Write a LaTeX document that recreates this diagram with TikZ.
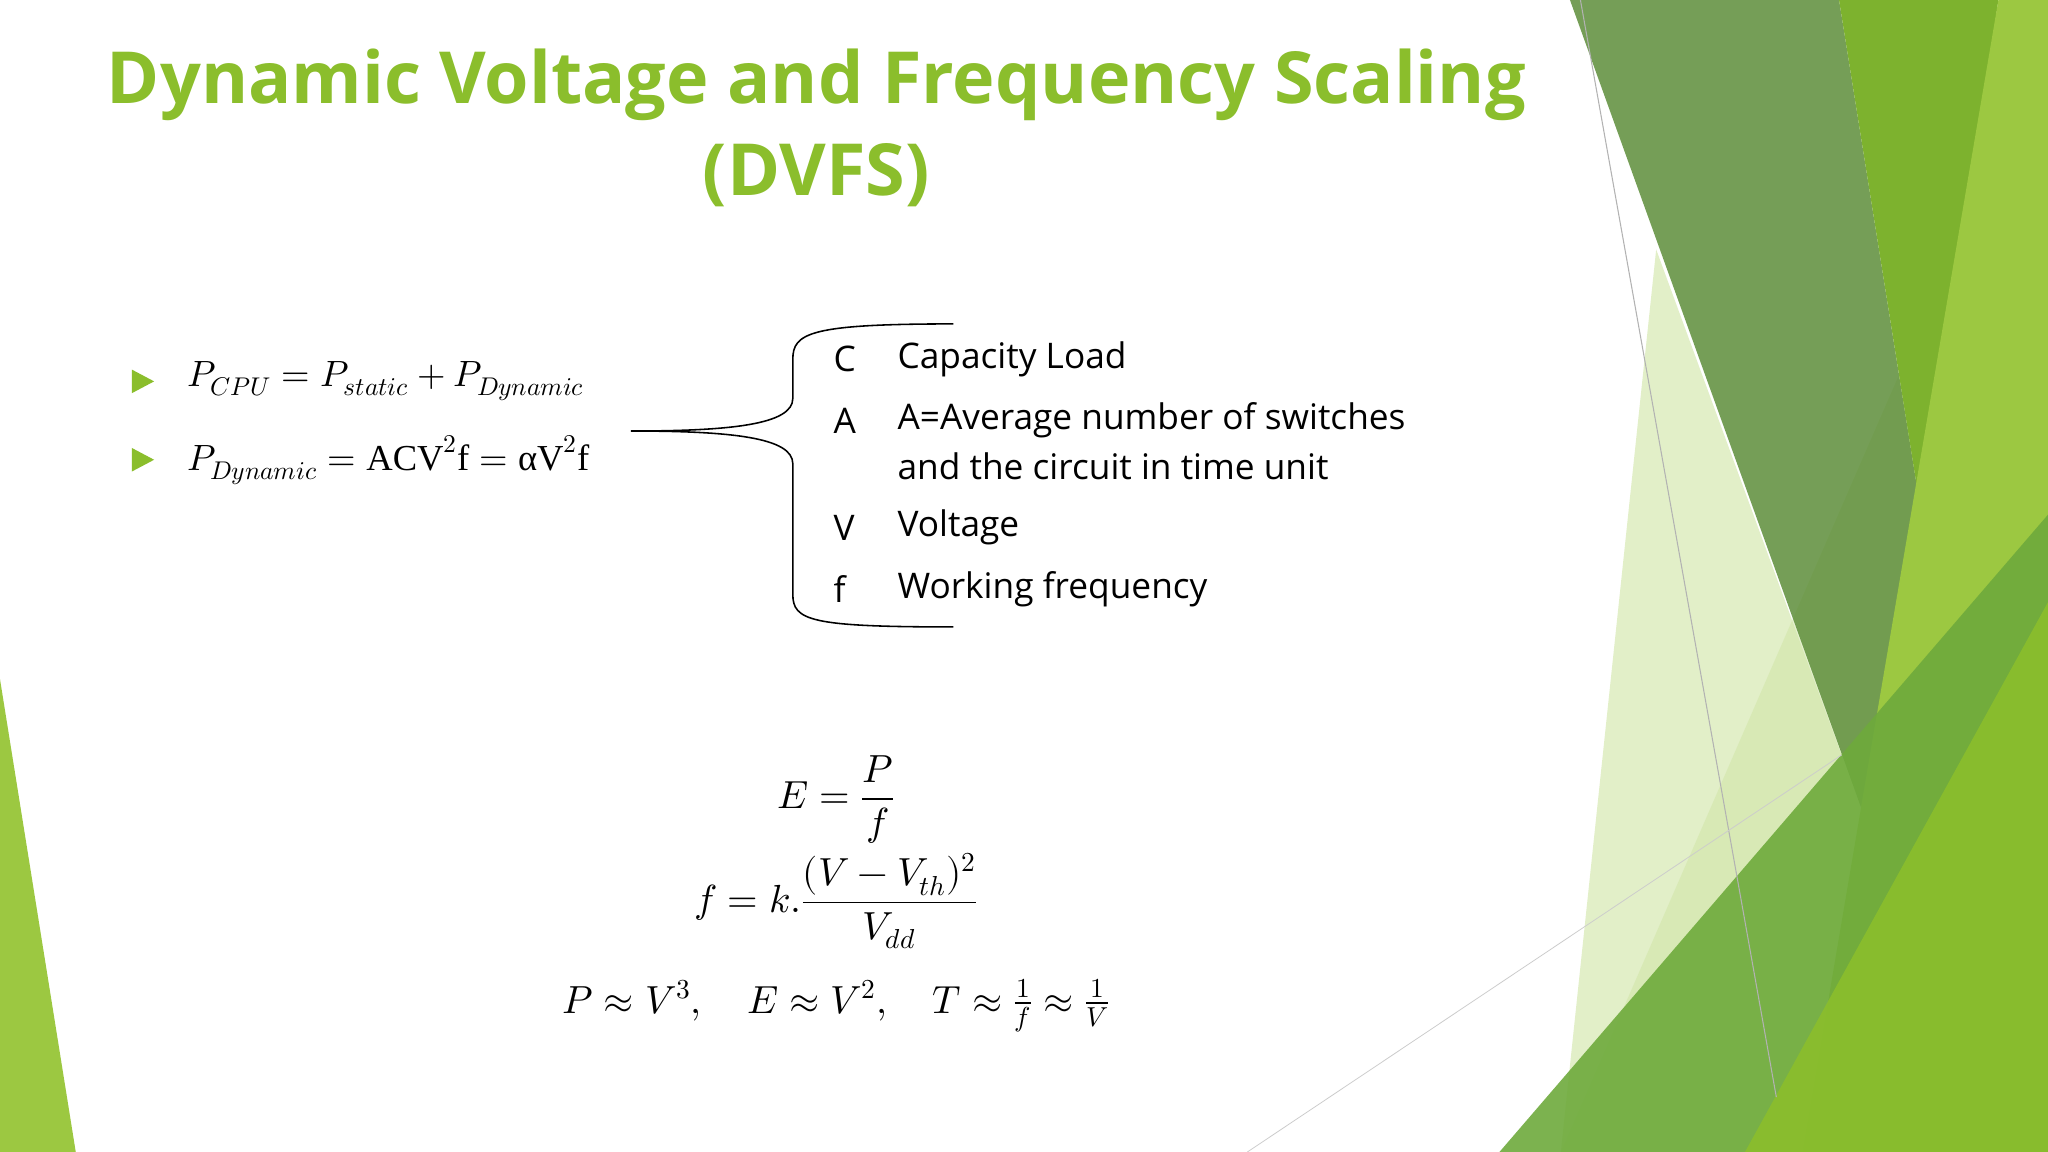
\documentclass[tikz,border=0pt]{standalone}
\usepackage{fontspec}
\setmainfont{Open Sans}
\usepackage{amsmath}
\usepackage{unicode-math}
\setmathfont{Latin Modern Math}
\newfontfamily\serif{Liberation Serif}
\definecolor{tgreen}{HTML}{8BBE2C}
\definecolor{dolive}{HTML}{5E8E3A}
\definecolor{bgreen}{HTML}{7DB22E}
\definecolor{lgreen}{HTML}{9CC841}
\definecolor{mgreen}{HTML}{6EAA3C}
\definecolor{pale}{HTML}{CFE5A4}
\begin{document}
\begin{tikzpicture}[x=1pt,y=-1pt,
  body/.style={font=\fontsize{27}{30}\selectfont,anchor=west,inner sep=0},
  eq/.style={font=\fontsize{30}{34}\selectfont,inner sep=0},
  beq/.style={font=\fontsize{28}{30}\selectfont,inner sep=0},
  bul/.style={fill=tgreen,draw=none}]
\useasboundingbox (0,0) rectangle (1568,882);
\fill[white] (0,0) rectangle (1568,882);
% decoration
\fill[pale,opacity=0.6] (1268,191) -- (1437,652) -- (1360,882) -- (1195,882) -- cycle;
\fill[pale,opacity=0.5] (1470,250) -- (1500,580) -- (1390,882) -- (1195,882) -- cycle;
\fill[dolive,opacity=0.85] (1202,0) -- (1408,0) -- (1472,400) -- (1437,652) -- cycle;
\fill[bgreen] (1408,0) -- (1530,0) -- (1472,400) -- cycle;
\fill[lgreen] (1530,0) -- (1568,0) -- (1568,882) -- (1380,882) -- cycle;
\fill[mgreen,opacity=0.9] (1148,882) -- (1568,394) -- (1568,882) -- cycle;
\fill[tgreen,opacity=0.9] (1336,882) -- (1568,461) -- (1568,882) -- cycle;
\fill[lgreen] (0,520) -- (58,882) -- (0,882) -- cycle;
\draw[gray!60,line width=0.8] (1210,0) -- (1360,840);
\draw[gray!40,line width=0.6] (955,882) -- (1410,578);
% title
\node[font=\fontsize{55}{70}\selectfont\bfseries,text=tgreen,align=center] (title) at (625,98)
  {Dynamic Voltage and Frequency Scaling\\(DVFS)};
% bullets
\fill[bul] (101,283) -- (118,292) -- (101,301) -- cycle;
\fill[bul] (101,343) -- (118,352) -- (101,361) -- cycle;
\node[beq,anchor=west] (p1) at (143,292) {$P_{CPU}=P_{static}+P_{Dynamic}$};
\node[beq,anchor=west] (p2) at (143,352) {$P_{Dynamic}=\text{\serif ACV}^2\text{\serif f}=\text{\serif αV}^2\text{\serif f}$};
% brace
\coordinate (bt) at (730,248);
\coordinate (bb) at (730,480);
\coordinate (bm) at (483,330);
\draw[line width=1.2] (bt) .. controls (620,248) and (607,255) .. (607,275) -- (607,305)
  .. controls (607,325) and (560,330) .. (bm)
  .. controls (560,330) and (607,335) .. (607,355) -- (607,455)
  .. controls (607,475) and (620,480) .. (bb);
\node[body] (lc) at (638,275) {C};
\node[body] (la) at (638,322) {A};
\node[body] (lv) at (638,404) {V};
\node[body] (lf) at (638,451) {f};
\node[body] (tc) at (687,275) {Capacity Load};
\node[body] (ta) at (687,322) {A=Average number of switches};
\node[body] (ta2) at (687,357) {and the circuit in time unit};
\node[body] (tv) at (687,404) {Voltage};
\node[body] (tf) at (687,451) {Working frequency};
% equations
\node[eq] (e1) at (640,612) {$E=\dfrac{P}{f}$};
\node[eq] (e2) at (640,690) {$f=k.\dfrac{(V-V_{th})^2}{V_{dd}}$};
\node[eq] (e3) at (640,770) {$P\approx V^3,\quad E\approx V^2,\quad T\approx \frac{1}{f}\approx\frac{1}{V}$};
\end{tikzpicture}
\end{document}
